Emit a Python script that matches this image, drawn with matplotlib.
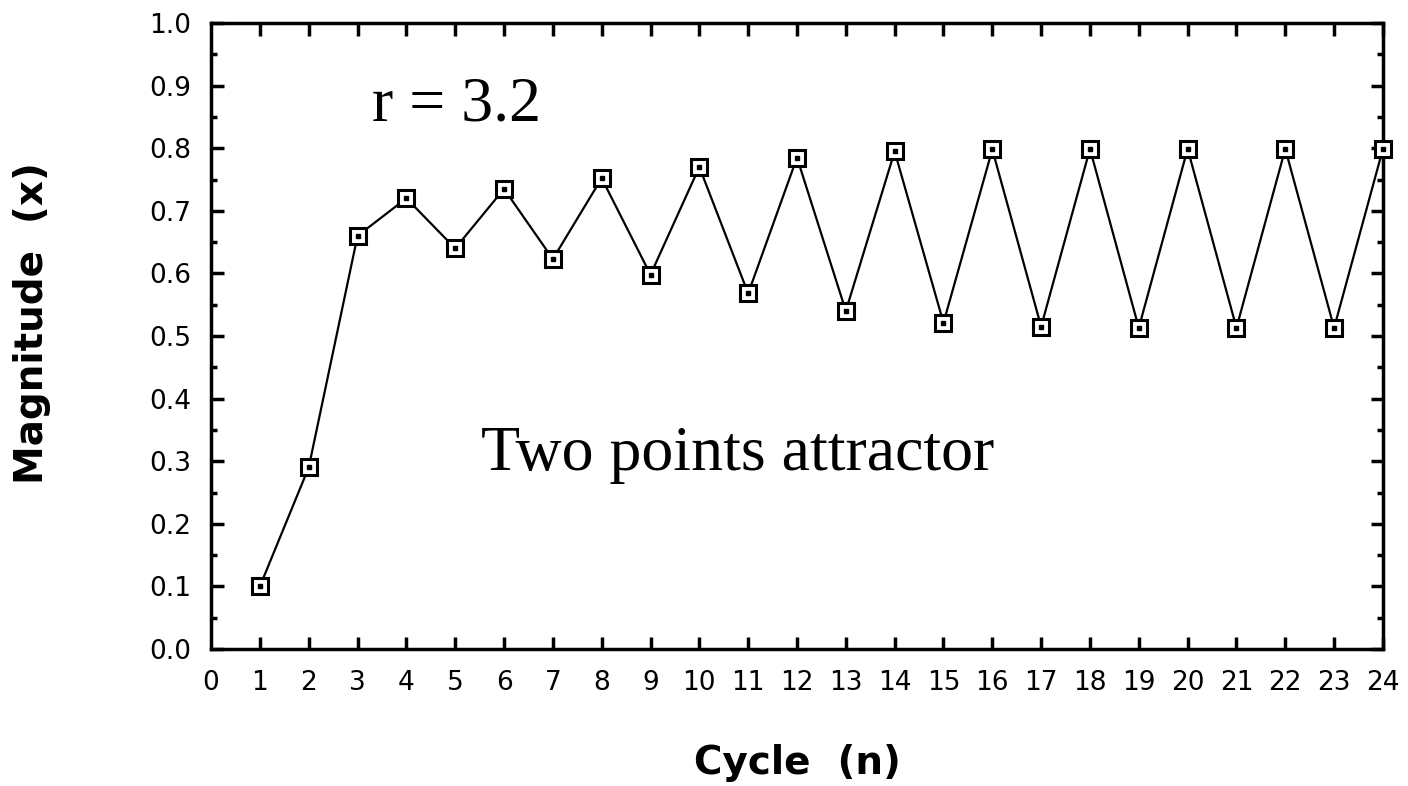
import numpy as np
import matplotlib.pyplot as plt
from matplotlib.ticker import MultipleLocator

# values
cycles = list(range(1, 25))
magnitude = [0.10, 0.29, 0.66, 0.72, 0.64, 0.735, 0.623, 0.752, 0.598, 0.77,
             0.568, 0.785, 0.54, 0.795, 0.521, 0.798, 0.515, 0.799, 0.513, 0.799,
             0.513, 0.799, 0.513, 0.799]
x_ticks = list(range(0, 25))
y_ticks = [round(0.1 * i, 1) for i in range(11)]

fig = plt.figure(figsize=(14.08, 7.86), dpi=100)
ax = fig.add_axes([0.1499, 0.1743, 0.8323, 0.7964])

# line with open square markers and a dot in each square
ax.plot(cycles, magnitude, color='black', linewidth=1.6, marker='s',
        markersize=11.5, markerfacecolor='white', markeredgecolor='black',
        markeredgewidth=2.2, clip_on=False, zorder=3)
ax.plot(cycles, magnitude, linestyle='none', marker='s', markersize=2.5,
        color='black', clip_on=False, zorder=4)

ax.set_xlim(0, 24)
ax.set_ylim(0, 1.0)
ax.set_xticks(x_ticks)
ax.set_yticks(y_ticks)
ax.set_yticklabels([f'{v:.1f}' for v in y_ticks])
ax.yaxis.set_minor_locator(MultipleLocator(0.05))

for s in ax.spines.values():
    s.set_linewidth(2.5)
ax.tick_params(which='major', direction='in', length=9, width=2.5,
               top=True, right=True, labelsize=19)
ax.tick_params(axis='x', which='major', pad=15)
ax.tick_params(axis='y', which='major', pad=14)
ax.tick_params(which='minor', direction='in', length=4, width=2.5,
               top=False, bottom=False, left=True, right=True)
# the first x tick sits on the axis corner
ax.xaxis.get_major_ticks()[0].tick1line.set_visible(False)
ax.xaxis.get_major_ticks()[0].tick2line.set_visible(False)

ax.set_xlabel('Cycle  (n)', fontsize=28, fontweight='bold')
ax.set_ylabel('Magnitude  (x)', fontsize=28, fontweight='bold')
ax.xaxis.label.set_va('center')
ax.yaxis.label.set_va('center')
ax.xaxis.set_label_coords(0.5, -0.182)
ax.yaxis.set_label_coords(-0.1527, 0.52)

ax.text(5.02, 0.869, 'r = 3.2', fontsize=46, family='Liberation Serif',
        ha='center', va='center')
ax.text(10.79, 0.31, 'Two points attractor', fontsize=46,
        family='Liberation Serif', ha='center', va='center')

fig.savefig('out.png', dpi=100)
